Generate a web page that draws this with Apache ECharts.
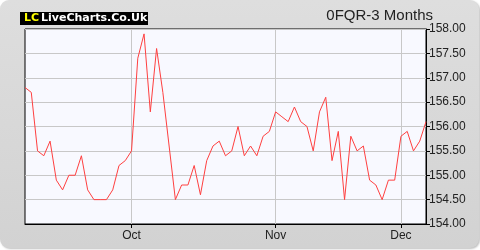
<!DOCTYPE html>
<html><head><meta charset="utf-8">
<script src="https://cdn.jsdelivr.net/npm/echarts@6/dist/echarts.min.js"></script>
<style>html,body{margin:0;padding:0;background:#fff}#c{width:480px;height:250px}</style>
</head><body><div id="c"></div>
<script>
var dates = [
 '2019-09-06','2019-09-09','2019-09-10','2019-09-11','2019-09-12','2019-09-13','2019-09-16','2019-09-17','2019-09-18','2019-09-19','2019-09-20','2019-09-23','2019-09-24','2019-09-25','2019-09-26','2019-09-27','2019-09-30',
 '2019-10-01','2019-10-02','2019-10-03','2019-10-04','2019-10-07','2019-10-08','2019-10-09','2019-10-10','2019-10-11','2019-10-14','2019-10-15','2019-10-16','2019-10-17','2019-10-18','2019-10-21','2019-10-22','2019-10-23','2019-10-24','2019-10-25','2019-10-28','2019-10-29','2019-10-30','2019-10-31',
 '2019-11-01','2019-11-04','2019-11-05','2019-11-06','2019-11-07','2019-11-08','2019-11-11','2019-11-12','2019-11-13','2019-11-14','2019-11-15','2019-11-18','2019-11-19','2019-11-20','2019-11-21','2019-11-22','2019-11-25','2019-11-26','2019-11-27','2019-11-29',
 '2019-12-02','2019-12-03','2019-12-04','2019-12-05','2019-12-06'
];
var prices = [
 156.8,156.7,155.5,155.4,155.7,154.9,154.7,155.0,155.0,155.4,154.7,154.5,154.5,154.5,154.7,155.2,155.3,
 155.5,157.4,157.9,156.3,157.6,156.7,155.6,154.5,154.8,154.8,155.2,154.6,155.3,155.6,155.7,155.4,155.5,156.0,155.4,155.6,155.4,155.8,155.9,
 156.3,156.2,156.1,156.4,156.1,156.0,155.5,156.3,156.6,155.3,155.9,154.5,155.8,155.5,155.6,154.9,154.8,154.5,154.9,154.9,
 155.8,155.9,155.5,155.7,156.1
];
var monthNames = ['Jan','Feb','Mar','Apr','May','Jun','Jul','Aug','Sep','Oct','Nov','Dec'];
var yTicks = {min:154, max:158, step:0.5};
var title = '0FQR-3 Months';

function isMonthStart(i){
  if (i === 0) return false;
  return dates[i].slice(5,7) !== dates[i-1].slice(5,7);
}
var chart = echarts.init(document.getElementById('c'), null, {renderer:'canvas'});
chart.setOption({
  animation:false,
  backgroundColor:'#ffffff',
  graphic:[
    {type:'rect', shape:{x:0,y:0,width:479,height:248,r:9}, z:-10,
     style:{fill:new echarts.graphic.LinearGradient(0,0,0,1,[{offset:0,color:'#dedede'},{offset:1,color:'#d2d2d2'}]),
            shadowBlur:2, shadowColor:'rgba(0,0,0,0.25)', shadowOffsetX:1, shadowOffsetY:1}},
    {type:'rect', shape:{x:20,y:12,width:128,height:13}, style:{fill:'#000'}, z:5},
    {type:'text', x:24, y:18.5, z:6, style:{text:'LC', fill:'#ffff00', font:'bold 11px "DejaVu Sans"', verticalAlign:'middle'}},
    {type:'text', x:41, y:18.5, z:6, style:{text:'LiveCharts.Co.Uk', fill:'#ffffff', font:'bold 11px "DejaVu Sans"', verticalAlign:'middle'}},
    {type:'text', x:433, y:16, z:6, style:{text:title, fill:'#222', font:'15px "Liberation Sans"', align:'right', verticalAlign:'middle'}}
  ],
  grid:{left:25, right:54, top:29, bottom:26, show:true, backgroundColor:'#f8f9ff', borderColor:'#000', borderWidth:1},
  xAxis:{
    type:'category', data:dates, boundaryGap:false,
    axisLine:{show:true, lineStyle:{color:'#000', width:1}},
    axisTick:{show:true, length:4, interval:function(i){return isMonthStart(i);}, lineStyle:{color:'#000'}},
    axisLabel:{interval:function(i){return isMonthStart(i);}, formatter:function(v){return monthNames[parseInt(v.slice(5,7),10)-1];},
               color:'#222', fontFamily:'Liberation Sans', fontSize:12, margin:6},
    splitLine:{show:true, interval:function(i){return isMonthStart(i);}, lineStyle:{color:'#c8c8c8', width:1}}
  },
  yAxis:{
    type:'value', position:'right', min:yTicks.min, max:yTicks.max, interval:yTicks.step,
    axisLine:{show:true, lineStyle:{color:'#000', width:1}},
    axisTick:{show:true, length:4, lineStyle:{color:'#000'}},
    axisLabel:{formatter:function(v){return v.toFixed(2);}, color:'#222', fontFamily:'Liberation Sans', fontSize:12, margin:3},
    splitLine:{show:true, lineStyle:{color:'#c8c8c8', width:1}}
  },
  series:[{type:'line', data:prices, symbol:'none', lineStyle:{color:'#ff4040', width:1}}]
});
</script></body></html>
